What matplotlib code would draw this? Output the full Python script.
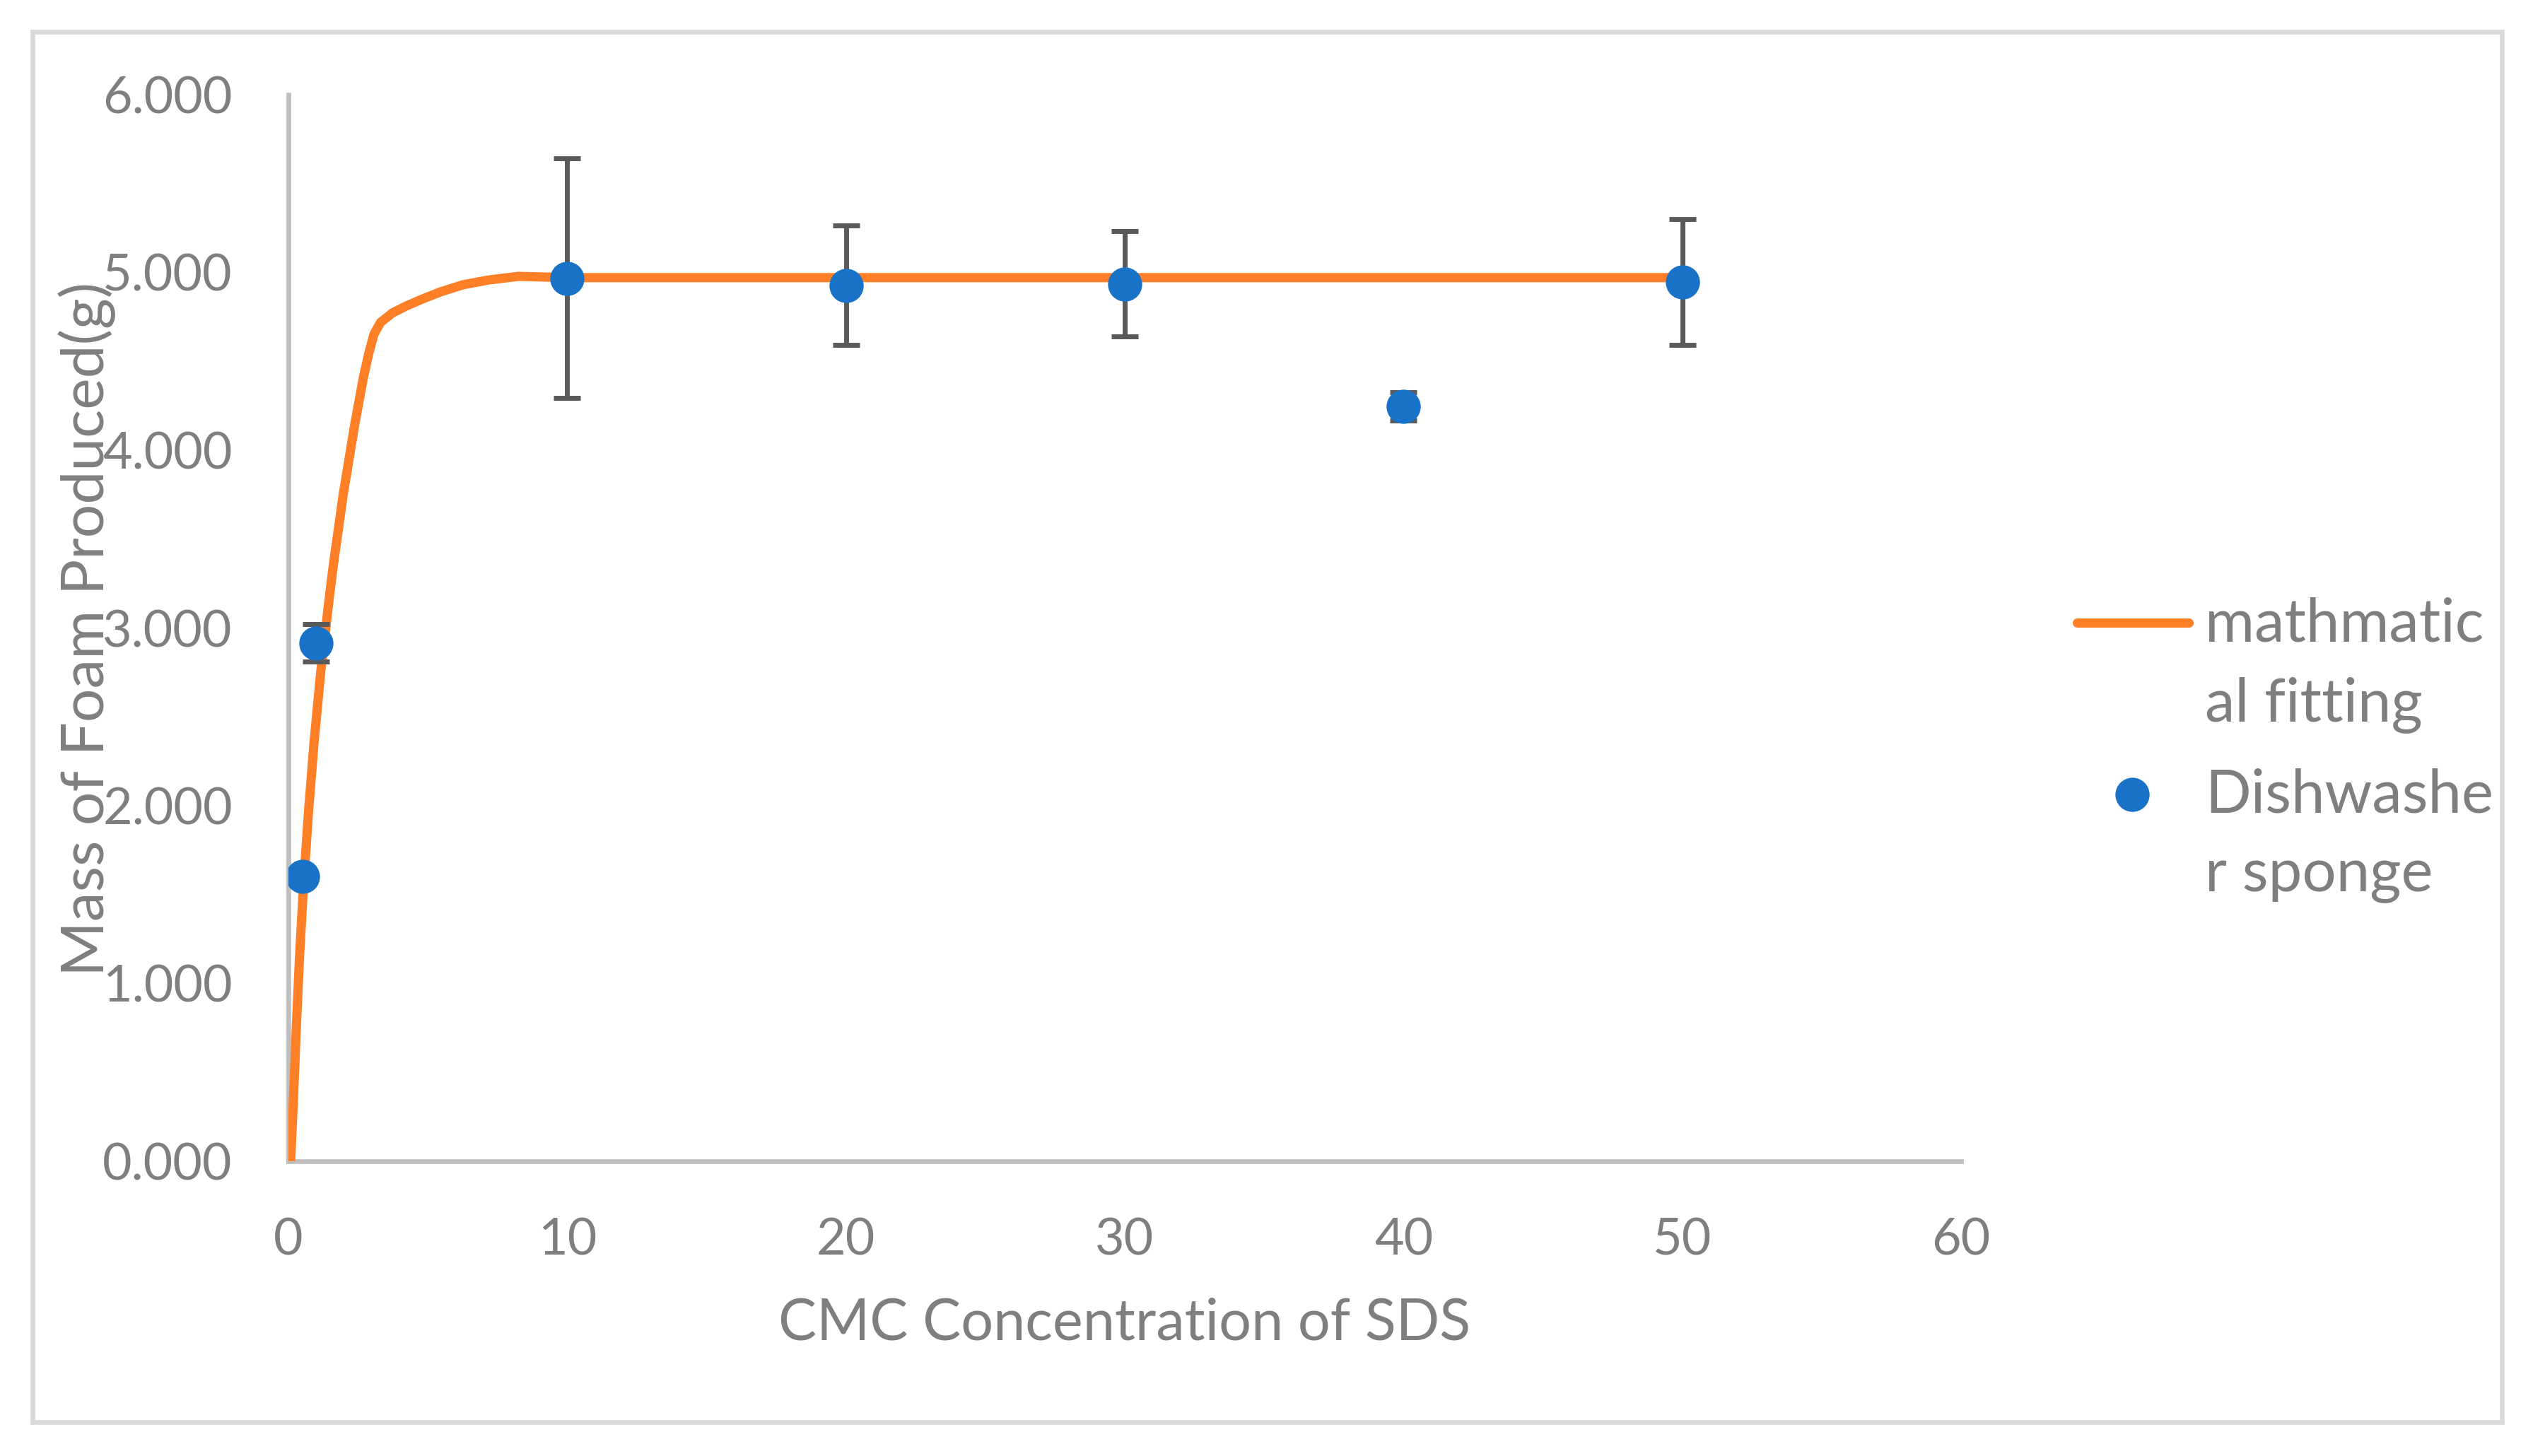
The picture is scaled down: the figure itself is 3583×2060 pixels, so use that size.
import matplotlib
matplotlib.use("Agg")
import matplotlib.pyplot as plt
from matplotlib.lines import Line2D
from matplotlib.patches import Rectangle

plt.rcParams['font.family'] = ['Lato', 'DejaVu Sans']

# measured foam mass for the dishwasher sponge
conc = [0.5, 1, 10, 20, 30, 40, 50]
foam = [1.603, 2.916, 4.968, 4.928, 4.936, 4.248, 4.947]
foam_err = [0.0, 0.105, 0.674, 0.336, 0.297, 0.08, 0.355]

# fitted curve
fit_x = [0.08, 0.185, 0.287, 0.403, 0.545, 0.718, 0.92, 1.161, 1.453, 1.61,
         1.965, 2.383, 2.695, 2.885, 3.07, 3.304, 3.727, 4.234, 4.825, 5.459,
         6.263, 7.193, 8.248, 10, 20, 30, 40, 50]
fit_y = [0.0, 0.37, 0.768, 1.165, 1.563, 1.961, 2.359, 2.757, 3.154, 3.353,
         3.751, 4.149, 4.414, 4.547, 4.653, 4.719, 4.772, 4.812, 4.852, 4.891,
         4.931, 4.958, 4.978, 4.971, 4.971, 4.971, 4.971, 4.971]

x_ticks = [0, 10, 20, 30, 40, 50, 60]
y_ticks = [0, 1, 2, 3, 4, 5, 6]

W, H = 3583, 2060
gray_txt = '#7F7F7F'
axis_col = '#BFBFBF'
orange = '#FF7F27'
blue = '#1772C8'

fig = plt.figure(figsize=(W/200, H/200), dpi=200)
fig.patch.set_facecolor('white')


def fit_size(t, target, use_height=False):
    """scale a text's font so its drawn extent matches target pixels"""
    r = fig.canvas.get_renderer()
    bb = t.get_window_extent(renderer=r)
    cur = bb.height if use_height else bb.width
    t.set_fontsize(t.get_fontsize()*target/cur)


# outer chart border
fig.add_artist(Rectangle((46/W, 1-2012/H), (3539-46)/W, (2012-45)/H,
                         transform=fig.transFigure, fill=False,
                         edgecolor='#D9D9D9', linewidth=2.4))

ax = fig.add_axes([408/W, 1-1643/H, (2774-408)/W, (1643-134)/H])
ax.plot(fit_x, fit_y, color=orange, lw=4.7, solid_joinstyle='round', zorder=3)
ax.errorbar(conc, foam, yerr=foam_err, fmt='none', ecolor='#595959',
            elinewidth=2.5, capsize=6.85, capthick=2.5, zorder=4)
ax.plot(conc, foam, 'o', ms=17.4, color=blue, mec='none', zorder=5)

ax.set_xlim(0, 60)
ax.set_ylim(0, 6)
ax.set_xticks(x_ticks)
ax.set_yticks(y_ticks)
ax.set_xticklabels([str(t) for t in x_ticks])
ax.set_yticklabels(['%.3f' % t for t in y_ticks])
ax.tick_params(length=0, pad=28.5, labelsize=25.6, labelcolor=gray_txt)
for s in ['top', 'right']:
    ax.spines[s].set_visible(False)
for s in ['left', 'bottom']:
    ax.spines[s].set_color(axis_col)
    ax.spines[s].set_linewidth(2.4)
    ax.spines[s].set_zorder(1)

# axis titles
xt = fig.text(1591/W, 1-1895/H, 'CMC Concentration of SDS', ha='center',
              va='baseline', fontsize=27.5, color=gray_txt)
yt = fig.text(123/W, 1-890/H, 'Mass of Foam Produced(g)', rotation=90,
              ha='center', va='center', fontsize=27.5, color=gray_txt)

# legend, drawn like the Excel one (handle beside first line of text)
fig.add_artist(Line2D([2938/W, 3096/W], [1-881/H, 1-881/H], color=orange,
                      lw=4.7, solid_capstyle='round', transform=fig.transFigure))
fig.add_artist(Line2D([3016/W], [1-1124/H], marker='o', ms=17.4, color=blue,
                      mec='none', transform=fig.transFigure))
leg_lines = ['mathmatic', 'al fitting', 'Dishwashe', 'r sponge']
leg_base = [907, 1020, 1150, 1261]
leg_txt = []
for txt, b in zip(leg_lines, leg_base):
    leg_txt.append(fig.text(3119/W, 1-b/H, txt, ha='left', va='baseline',
                            fontsize=29, color=gray_txt))

# match text sizes to the measured widths in the reference
fig.canvas.draw()
fit_size(xt, 980)
fit_size(yt, 983, use_height=True)
fit_size(leg_txt[0], 394)
for t in leg_txt[1:]:
    t.set_fontsize(leg_txt[0].get_fontsize())
lab6 = ax.get_yticklabels()[-1]
bb = lab6.get_window_extent(renderer=fig.canvas.get_renderer())
ax.tick_params(labelsize=25.6*184/bb.width)

fig.savefig('out.png', dpi=200, facecolor='white')
